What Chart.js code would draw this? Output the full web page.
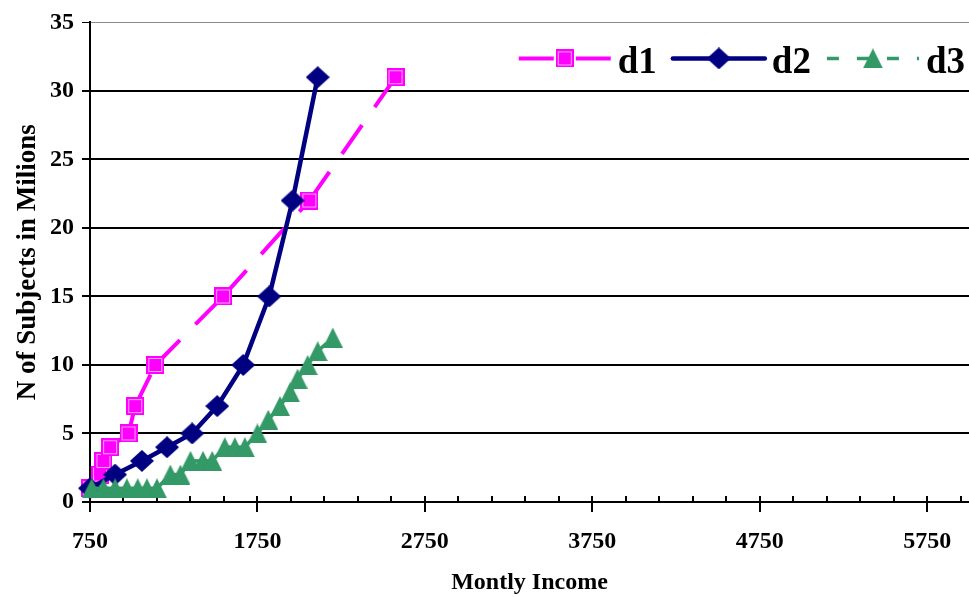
<!DOCTYPE html>
<html>
<head>
<meta charset="utf-8">
<script src="https://cdn.jsdelivr.net/npm/chart.js@4.4.1/dist/chart.umd.min.js"></script>
<style>
    html, body { margin: 0; padding: 0; background: #fff; }
    canvas { display: block; }
</style>
</head>
<body>
<canvas id="incomeChart" width="969" height="597"></canvas>
<script>
// Data
const seriesNames = ['d1', 'd2', 'd3'];

const d1Income = [750, 810, 830, 870, 980, 1020, 1140, 1545, 2060, 2575];
const d1Subjects = [1, 2, 3, 4, 5, 7, 10, 15, 22, 31];

const d2Income = [750, 900, 1060, 1210, 1360, 1510, 1665, 1820, 1960, 2110];
const d2Subjects = [1, 2, 3, 4, 5, 7, 10, 15, 22, 31];

const d3Income = [760, 830, 900, 970, 1035, 1090, 1150, 1230, 1290, 1350, 1425, 1480,
    1555, 1615, 1675, 1750, 1815, 1885, 1945, 1990, 2050, 2110, 2200];
const d3Subjects = [1, 1, 1, 1, 1, 1, 1, 2, 2, 3, 3, 3, 4, 4, 4, 5, 6, 7, 8, 9, 10, 11, 12];

const incomeTicks = [750, 1750, 2750, 3750, 4750, 5750];
const minorStep = 200;

Chart.defaults.font.family = '"Liberation Serif", "Times New Roman", serif';
Chart.defaults.color = '#000';

const toPoints = (xs, ys) => xs.map((x, i) => ({ x, y: ys[i] }));

// Marker images (Excel style markers)
function marker(w, h, paint) {
    const c = document.createElement('canvas');
    c.width = w;
    c.height = h;
    paint(c.getContext('2d'), w, h);
    return c;
}

const squareMark = marker(18, 18, (g, w, h) => {
    g.fillStyle = '#ff00ff';
    g.fillRect(0, 0, w, h);
    g.strokeStyle = '#ffa6ff';
    g.lineWidth = 1;
    g.strokeRect(2.5, 2.5, w - 5, h - 5);
});

const diamondMark = marker(24, 22, (g, w, h) => {
    g.fillStyle = '#000080';
    g.beginPath();
    g.moveTo(w / 2, 0);
    g.lineTo(w, h / 2);
    g.lineTo(w / 2, h);
    g.lineTo(0, h / 2);
    g.closePath();
    g.fill();
});

const triangleMark = marker(20, 20, (g, w, h) => {
    g.fillStyle = '#339966';
    g.beginPath();
    g.moveTo(w / 2, 0);
    g.lineTo(w, h);
    g.lineTo(0, h);
    g.closePath();
    g.fill();
});

// restart the dash pattern on every segment, like the original
const restartDash = {
    borderDashOffset: c => (c.p0DataIndex % 2) * 0.001
};

// x axis tick marks: majors cross the axis, minors sit inside
const axisTicks = {
    id: 'axisTicks',
    beforeDatasetsDraw(chart) {
        const { ctx, scales: { x } } = chart;
        const y0 = x.top;
        ctx.save();
        ctx.strokeStyle = '#000';
        ctx.lineWidth = 2;
        for (let v = x.min; v <= x.max; v += minorStep) {
            const px = Math.round(x.getPixelForValue(v));
            const major = incomeTicks.includes(v);
            ctx.beginPath();
            ctx.moveTo(px, y0 - 6);
            ctx.lineTo(px, y0 + (major ? 10 : 0));
            ctx.stroke();
        }
        ctx.restore();
    }
};

// legend with line + marker samples, top right inside the plot
const lineLegend = {
    id: 'lineLegend',
    afterDraw(chart) {
        const { ctx, chartArea } = chart;
        const lineLen = 92, textGap = 7, itemGap = 16;
        ctx.save();
        ctx.font = 'bold 37px "Liberation Serif", serif';
        const items = chart.data.datasets.map(ds => ({ ds, w: ctx.measureText(ds.label).width }));
        const total = items.reduce((s, it) => s + lineLen + textGap + it.w, 0) + itemGap * (items.length - 1);
        let x = chartArea.right - 4 - total;
        const y = chartArea.top + 36;
        items.forEach(({ ds, w }) => {
            ctx.strokeStyle = ds.borderColor;
            ctx.lineWidth = ds.borderWidth;
            ctx.lineCap = ds.borderCapStyle || 'butt';
            ctx.setLineDash(ds.borderDash || []);
            ctx.beginPath();
            ctx.moveTo(x, y);
            ctx.lineTo(x + lineLen, y);
            ctx.stroke();
            ctx.setLineDash([]);
            Chart.helpers.drawPoint(ctx, { pointStyle: ds.pointStyle, radius: 9, rotation: 0, borderWidth: 0 }, x + lineLen / 2, y);
            ctx.fillStyle = '#000';
            ctx.textAlign = 'left';
            ctx.textBaseline = 'alphabetic';
            ctx.fillText(ds.label, x + lineLen + textGap, y + 15);
            x += lineLen + textGap + w + itemGap;
        });
        ctx.restore();
    }
};

const tickFont = { size: 24, weight: 'bold' };

const ctx = document.getElementById('incomeChart').getContext('2d');
const incomeChart = new Chart(ctx, {
    type: 'line',
    data: {
        datasets: [
            {
                label: seriesNames[0],
                data: toPoints(d1Income, d1Subjects),
                borderColor: '#ff00ff',
                borderWidth: 4,
                borderDash: [35, 22],
                segment: restartDash,
                pointStyle: squareMark,
                pointRadius: 9,
                clip: false,
                order: 3
            },
            {
                label: seriesNames[1],
                data: toPoints(d2Income, d2Subjects),
                borderColor: '#000080',
                borderWidth: 4.5,
                borderCapStyle: 'round',
                pointStyle: diamondMark,
                pointRadius: 11,
                clip: false,
                order: 2
            },
            {
                label: seriesNames[2],
                data: toPoints(d3Income, d3Subjects),
                borderColor: '#339966',
                borderWidth: 3.5,
                borderDash: [12, 18],
                segment: restartDash,
                pointStyle: triangleMark,
                pointRadius: 10,
                clip: false,
                order: 1
            }
        ]
    },
    options: {
        responsive: false,
        animation: false,
        events: [],
        layout: {
            autoPadding: false,
            padding: { top: 21, right: 0, bottom: 0, left: 0 }
        },
        plugins: {
            legend: { display: false },
            tooltip: { enabled: false }
        },
        scales: {
            x: {
                type: 'linear',
                min: 750,
                max: 6000,
                afterBuildTicks: s => { s.ticks = incomeTicks.map(v => ({ value: v })); },
                afterFit: s => {
                    s.height = 95;
                    s.paddingLeft = 0;
                    s.paddingRight = 0;
                },
                grid: { display: false, drawTicks: false },
                border: { display: true, color: '#000', width: 2 },
                ticks: {
                    font: tickFont,
                    padding: 25,
                    maxRotation: 0,
                    autoSkip: false,
                    callback: v => String(v)
                },
                title: {
                    display: true,
                    text: 'Montly Income',
                    font: { size: 24, weight: 'bold' },
                    padding: { top: 0, bottom: 0 }
                }
            },
            y: {
                min: 0,
                max: 35,
                afterFit: s => { s.width = 90; },
                grid: {
                    color: c => c.tick && c.tick.value === 35 ? '#8a8a8a' : '#000',
                    lineWidth: c => c.tick && c.tick.value === 35 ? 1 : 2,
                    tickLength: 8,
                    tickColor: '#000'
                },
                border: { color: '#000', width: 2 },
                ticks: {
                    stepSize: 5,
                    font: tickFont,
                    padding: 8
                },
                title: {
                    display: true,
                    text: 'N of Subjects in Milions',
                    font: { size: 27, weight: 'bold' },
                    padding: { top: 12, bottom: 0 }
                }
            }
        }
    },
    plugins: [axisTicks, lineLegend]
});
</script>
</body>
</html>
